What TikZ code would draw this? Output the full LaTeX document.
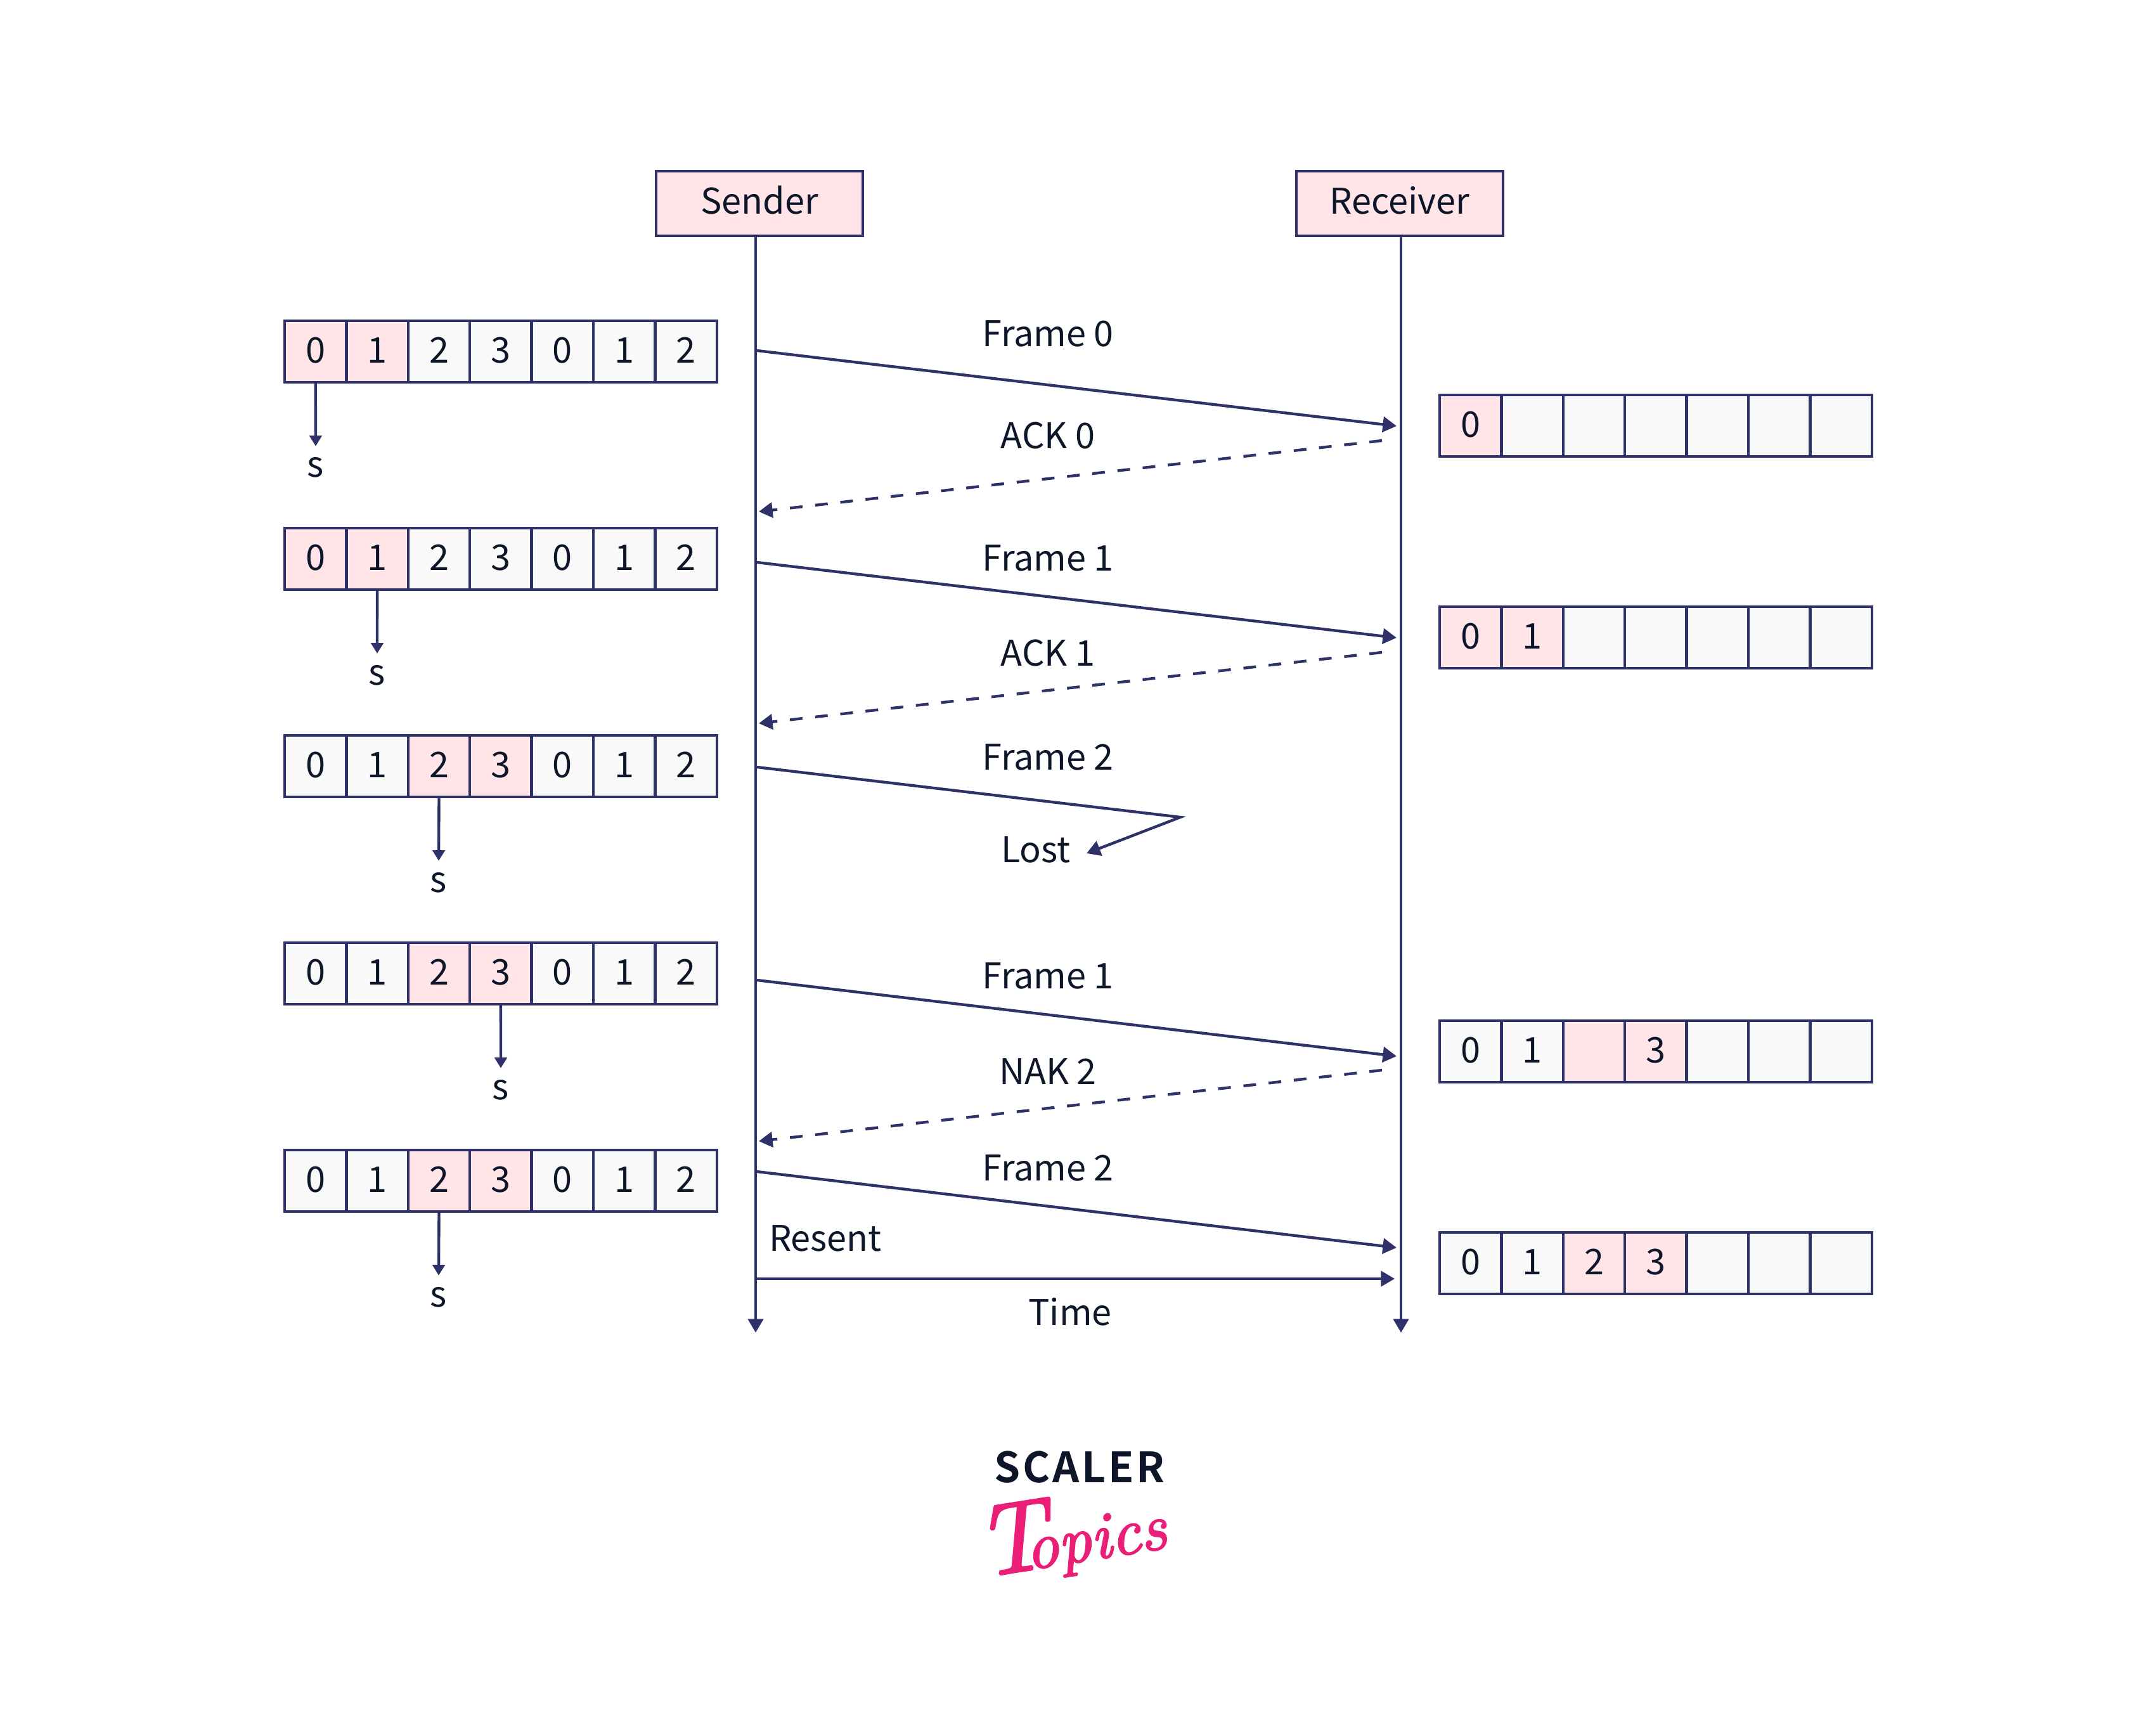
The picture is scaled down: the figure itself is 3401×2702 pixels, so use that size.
\documentclass[tikz,border=0pt]{standalone}
\usepackage{fontspec}
\setmainfont{Noto Sans CJK SC}
\newfontfamily\scalerfont[LetterSpace=6]{Noto Sans CJK SC Bold}
\newfontfamily\topicsfont[ItalicFeatures={FakeBold=2.5}]{Latin Modern Roman}
\usetikzlibrary{arrows.meta,calc}
\definecolor{navy}{HTML}{2F3268}
\definecolor{ink}{HTML}{0D1729}
\definecolor{pinkc}{HTML}{FFE4E8}
\definecolor{grayc}{HTML}{F9F9F9}
\definecolor{logopink}{HTML}{EA1E76}
\tikzset{
  x=0.24pt,y=-0.24pt,
  every node/.style={text=ink,inner sep=0pt,outer sep=0pt,font=\fontsize{13.4pt}{15pt}\selectfont},
  cellbox/.style={draw=navy,line width=1.05pt,minimum width=23.38pt,minimum height=23.28pt,text height=9.6pt,text depth=1pt},
  pk/.style={fill=pinkc},
  gy/.style={fill=grayc},
  headbox/.style={draw=navy,line width=1.05pt,fill=pinkc,minimum width=78.24pt,minimum height=24.48pt,text height=9.6pt,text depth=1.5pt},
  flow/.style={draw=navy,line width=1.05pt,-{Triangle[length=5.2pt,width=5.8pt]}},
  smallflow/.style={draw=navy,line width=1.05pt,-{Triangle[length=4pt,width=4.6pt]}},
  back/.style={flow,dash pattern=on 4.8pt off 4.8pt},
  lab/.style={anchor=base},
  slab/.style={anchor=base,text height=11.8pt,text depth=0pt},
}
\newcommand{\cellrow}[4]{% name, x0, y (top), list of text/style
  \foreach \t/\st [count=\j from 0] in {#4}{
    \node[cellbox,\st] (#1c\j) at ({#2+48.7+97.4*\j},{#3+48.5}) {\t};
  }
}
\begin{document}
\begin{tikzpicture}
\fill[white] (0,0) rectangle (3401,2702);
\useasboundingbox (0,0) rectangle (3401,2702);

% header boxes
\node[headbox] (sender) at (1198,321) {Sender};
\node[headbox] (receiver) at (2208,321) {Receiver};

% lifeline coordinates
\coordinate (sTop) at (1192,372);
\coordinate (sEnd) at (1192,2102);
\coordinate (rTop) at (2210,372);
\coordinate (rEnd) at (2210,2102);
\draw[flow] (sTop) -- (sEnd);
\draw[flow] (rTop) -- (rEnd);

% sender windows
\cellrow{a}{449}{506}{0/pk,1/pk,2/gy,3/gy,0/gy,1/gy,2/gy}
\cellrow{b}{449}{833}{0/pk,1/pk,2/gy,3/gy,0/gy,1/gy,2/gy}
\cellrow{c}{449}{1160}{0/gy,1/gy,2/pk,3/pk,0/gy,1/gy,2/gy}
\cellrow{d}{449}{1487}{0/gy,1/gy,2/pk,3/pk,0/gy,1/gy,2/gy}
\cellrow{e}{449}{1814}{0/gy,1/gy,2/pk,3/pk,0/gy,1/gy,2/gy}

% s markers
\node[slab] (s1) at (498,753) {s};
\node[slab] (s2) at (595,1080) {s};
\node[slab] (s3) at (692,1407) {s};
\node[slab] (s4) at (790,1734) {s};
\node[slab] (s5) at (692,2061) {s};
\draw[smallflow] (ac0.south) -- (s1.north);
\draw[smallflow] (bc1.south) -- (s2.north);
\draw[smallflow] (cc2.south) -- (s3.north);
\draw[smallflow] (dc3.south) -- (s4.north);
\draw[smallflow] (ec2.south) -- (s5.north);

% receiver windows
\cellrow{p}{2271}{623}{0/pk,{}/gy,{}/gy,{}/gy,{}/gy,{}/gy,{}/gy}
\cellrow{q}{2271}{957}{0/pk,1/pk,{}/gy,{}/gy,{}/gy,{}/gy,{}/gy}
\cellrow{r}{2271}{1610}{0/gy,1/gy,{}/pk,3/pk,{}/gy,{}/gy,{}/gy}
\cellrow{u}{2271}{1944}{0/gy,1/gy,2/pk,3/pk,{}/gy,{}/gy,{}/gy}

% message end points
\coordinate (f0s) at (1194,553);  \coordinate (f0r) at (2203,672);
\coordinate (k0r) at (2180,695);  \coordinate (k0s) at (1197,807);
\coordinate (f1s) at (1194,887);  \coordinate (f1r) at (2203,1006);
\coordinate (k1r) at (2180,1029); \coordinate (k1s) at (1197,1141);
\coordinate (f2s) at (1194,1210); \coordinate (f2m) at (1862,1289); \coordinate (f2e) at (1714,1346);
\coordinate (f3s) at (1194,1546); \coordinate (f3r) at (2203,1666);
\coordinate (k2r) at (2180,1688); \coordinate (k2s) at (1197,1800);
\coordinate (f4s) at (1194,1848); \coordinate (f4r) at (2203,1968);
\coordinate (ts) at (1192,2017);  \coordinate (tr) at (2200,2017);

\draw[flow] (f0s) -- (f0r);
\draw[back] (k0r) -- (k0s);
\draw[flow] (f1s) -- (f1r);
\draw[back] (k1r) -- (k1s);
\draw[flow] (f2s) -- (f2m) -- (f2e);
\draw[flow] (f3s) -- (f3r);
\draw[back] (k2r) -- (k2s);
\draw[flow] (f4s) -- (f4r);
\draw[flow] (ts) -- (tr);

% labels
\node[lab] (l1) at (1653,547) {Frame 0};
\node[lab] (l2) at (1653,708) {ACK 0};
\node[lab] (l3) at (1653,900) {Frame 1};
\node[lab] (l4) at (1653,1050) {ACK 1};
\node[lab] (l5) at (1653,1214) {Frame 2};
\node[lab] (l6) at (1634,1360) {Lost};
\node[lab] (l7) at (1653,1559) {Frame 1};
\node[lab] (l8) at (1653,1710) {NAK 2};
\node[lab] (l9) at (1653,1862) {Frame 2};
\node[lab] (l10) at (1302,1973) {Resent};
\node[lab] (l11) at (1688,2090) {Time};

% logo
\node[anchor=base,font=\scalerfont\fontsize{15.8pt}{18pt}\selectfont] (scaler) at (1703,2338) {SCALER};
\node[anchor=base west,rotate=9,text=logopink,font=\topicsfont\itshape\fontsize{25pt}{28pt}\selectfont] (topics) at (1548,2488)
  {{\fontsize{38pt}{40pt}\selectfont T}\kern-8.5pt opics};
\end{tikzpicture}
\end{document}
